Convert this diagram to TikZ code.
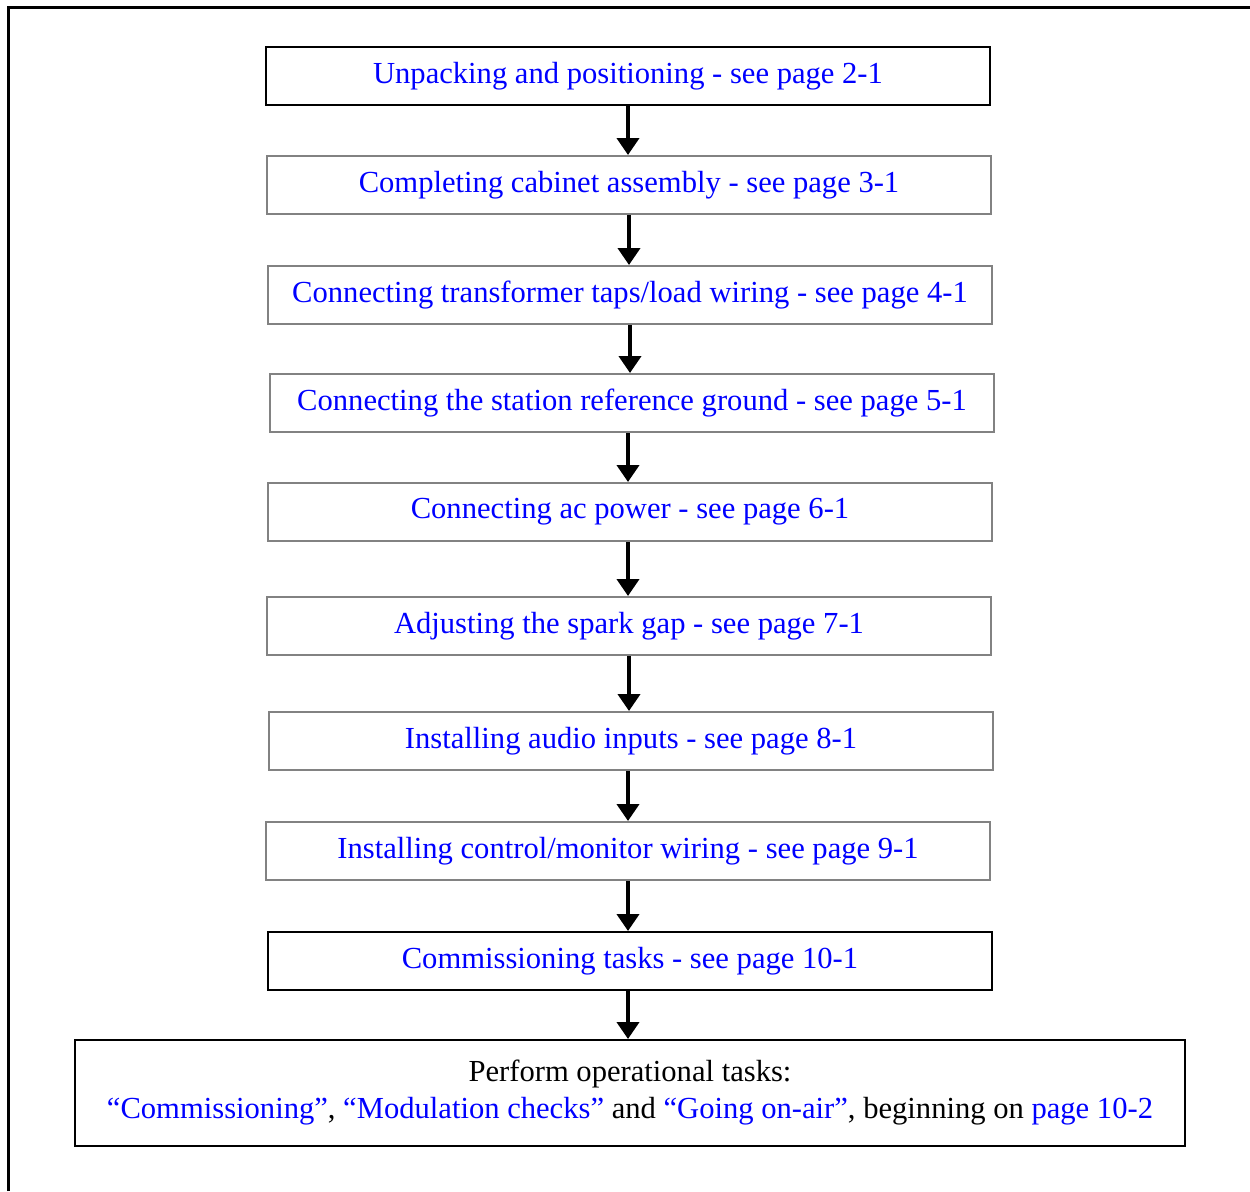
\documentclass[tikz,border=0pt]{standalone}
\usepackage{fontspec}
\setmainfont{Liberation Serif}
\usetikzlibrary{arrows.meta}
\definecolor{linkblue}{RGB}{0,0,255}
\definecolor{boxgrey}{RGB}{130,130,130}
\tikzset{
  stepbox/.style={draw=boxgrey, line width=1pt, minimum width=362pt,
    minimum height=29pt, inner sep=0pt, text=linkblue,
    font=\fontsize{15.3pt}{18pt}\selectfont},
  keybox/.style={stepbox, draw=black},
  arr/.style={line width=2pt, -{Triangle[width=11pt,length=8.5pt]}}
}
\begin{document}
\begin{tikzpicture}[x=0.5pt, y=-0.5pt]
      \useasboundingbox (0,0) rectangle (1250,1191);
      % frame
      \draw[line width=1.5pt] (8,1191) -- (8,7) -- (1250,7);
      % steps
      \node[keybox]  (unpack)  at (628,76)  {Unpacking and positioning - see page 2-1};
      \node[stepbox] (cabinet) at (629,185) {Completing cabinet assembly - see page 3-1};
      \node[stepbox] (taps)    at (630,295) {Connecting transformer taps/load wiring - see page 4-1};
      \node[stepbox] (ground)  at (632,403) {Connecting the station reference ground - see page 5-1};
      \node[stepbox] (acpower) at (630,512) {Connecting ac power - see page 6-1};
      \node[stepbox] (spark)   at (629,626) {Adjusting the spark gap - see page 7-1};
      \node[stepbox] (audio)   at (631,741) {Installing audio inputs - see page 8-1};
      \node[stepbox] (control) at (628,851) {Installing control/monitor wiring - see page 9-1};
      \node[keybox]  (commiss) at (630,961) {Commissioning tasks - see page 10-1};
      \node[draw, line width=1pt, minimum width=555pt, minimum height=53pt,
        inner sep=0pt, align=center, font=\fontsize{15.3pt}{18.5pt}\selectfont]
        (operate) at (630,1093)
        {Perform operational tasks:\\
         \textcolor{linkblue}{``Commissioning''}, \textcolor{linkblue}{``Modulation checks''}
         and \textcolor{linkblue}{``Going on-air''}, beginning on \textcolor{linkblue}{page 10-2}};
      % arrows
      \draw[arr] (unpack.south -| 628,0)  -- (cabinet.north -| 628,0);
      \draw[arr] (cabinet.south -| 629,0) -- (taps.north -| 629,0);
      \draw[arr] (taps.south -| 630,0)    -- (ground.north -| 630,0);
      \draw[arr] (ground.south -| 628,0)  -- (acpower.north -| 628,0);
      \draw[arr] (acpower.south -| 628,0) -- (spark.north -| 628,0);
      \draw[arr] (spark.south -| 629,0)   -- (audio.north -| 629,0);
      \draw[arr] (audio.south -| 628,0)   -- (control.north -| 628,0);
      \draw[arr] (control.south -| 628,0) -- (commiss.north -| 628,0);
      \draw[arr] (commiss.south -| 628,0) -- (operate.north -| 628,0);
\end{tikzpicture}
\end{document}
